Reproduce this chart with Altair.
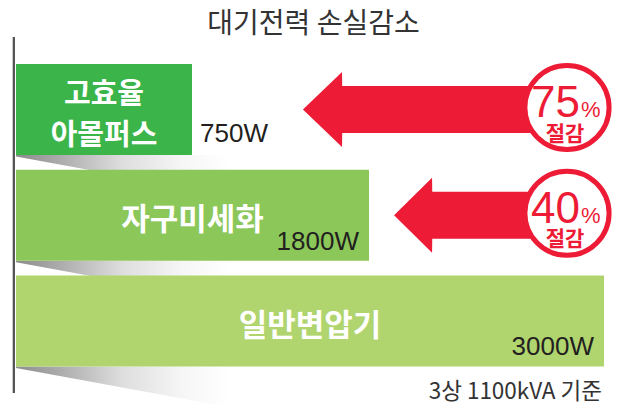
import altair as alt
import pandas as pd

# ---------------- data ----------------
categories = ["고효율\n아몰퍼스", "자구미세화", "일반변압기"]
power_w = [750, 1800, 3000]
power_labels = ["750W", "1800W", "3000W"]
bar_colors = ["#3bb54a", "#8bc759", "#b0d46e"]
reduction_pct = ["75", "40"]          # reductions shown for rows 0 and 1
reduction_word = "절감"
title_text = "대기전력 손실감소"
note_text = "3상 1100kVA 기준"

# ---------------- layout / style ----------------
RED = "#ed1b35"
KR = "Noto Sans CJK KR"
NUM = "Liberation Sans"
PLOT_W, PLOT_H = 611, 401
ROW_PX = 105.75
# display scale of the infographic (bars are not drawn proportionally)
X_DOMAIN = [0, 750, 1800, 3000]
X_RANGE = [8, 184, 361, 596]
Y_TOP = -0.96
Y_DOMAIN = [Y_TOP, Y_TOP + PLOT_H / ROW_PX]   # rows, top to bottom
BAR_HALF = 0.43


def _piece(v, src, dst):
    i = 0
    while i < len(src) - 2 and v >= src[i + 1]:
        i += 1
    return dst[i] + (v - src[i]) * (dst[i + 1] - dst[i]) / (src[i + 1] - src[i])


def to_px(v):
    return _piece(v, X_DOMAIN, X_RANGE)


def to_w(p):
    return _piece(p, X_RANGE, X_DOMAIN)


xs = alt.Scale(domain=X_DOMAIN, range=X_RANGE, nice=False, zero=False)
ys = alt.Scale(domain=Y_DOMAIN, range=[0, PLOT_H], nice=False, zero=False)

rows = list(range(len(categories)))
bars = pd.DataFrame({
    "row": rows,
    "category": categories,
    "power": power_w,
    "label": power_labels,
    "color": bar_colors,
})
bars["y0"] = bars["row"] - BAR_HALF
bars["y1"] = bars["row"] + BAR_HALF
bars["mid"] = [to_w((to_px(0) + to_px(v)) / 2) for v in power_w]
bars["zero"] = 0

# shadows under each bar (wedge, gradient)
SHADOW_END_W = 975
sh = []
for r in rows:
    b = r + BAR_HALF
    sh.append({"row": r, "x": 0, "y": b, "y2": b + 0.014})
    sh.append({"row": r, "x": SHADOW_END_W, "y": b, "y2": b + 0.385})
shadows = pd.DataFrame(sh)

# arrows (reduction), polygon via area
ARROW_TIP = [1408, 1928]
ARROW_BASE = [1640, 2122]
ARROW_END = 2700
HEAD_HALF, SHAFT_HALF = 0.355, 0.222
ar = []
for i, pct in enumerate(reduction_pct):
    c = rows[i]
    ar += [
        {"arrow": i, "x": ARROW_TIP[i], "y": c, "y2": c},
        {"arrow": i, "x": ARROW_BASE[i], "y": c - HEAD_HALF, "y2": c + HEAD_HALF},
        {"arrow": i, "x": ARROW_BASE[i] + 1, "y": c - SHAFT_HALF, "y2": c + SHAFT_HALF},
        {"arrow": i, "x": ARROW_END, "y": c - SHAFT_HALF, "y2": c + SHAFT_HALF},
    ]
arrows = pd.DataFrame(ar)

CIRCLE_W = 2811
badges = pd.DataFrame({
    "row": rows[:len(reduction_pct)],
    "pct": reduction_pct,
    "word": [reduction_word] * len(reduction_pct),
})
badges["cx"] = CIRCLE_W
badges["cy"] = badges["row"] - 0.019

X = lambda f: alt.X(f, type="quantitative", scale=xs, axis=None)
Y = lambda f: alt.Y(f, type="quantitative", scale=ys, axis=None)

gradient = alt.Gradient(
    gradient="linear",
    stops=[
        alt.GradientStop(color="#8c8c8c", offset=0),
        alt.GradientStop(color="#ababab", offset=0.2),
        alt.GradientStop(color="#dedede", offset=0.5),
        alt.GradientStop(color="#f6f6f6", offset=0.78),
        alt.GradientStop(color="#ffffff", offset=1),
    ],
    x1=0, x2=1, y1=0, y2=0,
)

shadow_layer = alt.Chart(shadows).mark_area(color=gradient, interpolate="linear").encode(
    x=X("x"), y=Y("y"), y2="y2", detail="row:N"
)

bar_layer = alt.Chart(bars).mark_rect().encode(
    x=X("zero"), x2="power", y=Y("y0"), y2="y1",
    color=alt.Color("color:N", scale=None),
)

axis_layer = alt.Chart(bars).mark_rule(color="#555555", strokeWidth=2).encode(
    x=alt.XDatum(-9, scale=xs, axis=None),
    y=alt.YDatum(-0.686, scale=ys, axis=None),
    y2=alt.Y2Datum(2.681),
)

arrow_layer = alt.Chart(arrows).mark_area(color=RED, interpolate="linear").encode(
    x=X("x"), y=Y("y"), y2="y2", detail="arrow:N"
)

circle_layer = alt.Chart(badges).mark_point(
    shape="circle", filled=False, fill="white", stroke=RED, strokeWidth=5,
    size=7088, opacity=1,
).encode(x=X("cx"), y=Y("cy"))

pct_layer = alt.Chart(badges).mark_text(
    font=NUM, fontSize=44, color=RED, align="right", baseline="alphabetic", dx=13, dy=9.5
).encode(x=X("cx"), y=Y("cy"), text="pct:N")

pct_sign = alt.Chart(badges).mark_text(
    font=NUM, fontSize=22, color=RED, align="left", baseline="alphabetic", dx=14, dy=9.5,
    text="%",
).encode(x=X("cx"), y=Y("cy"))

word_layer = alt.Chart(badges).mark_text(
    font=KR, fontSize=21, fontWeight="bold", color=RED, align="center",
    baseline="alphabetic", dx=-2, dy=33,
).encode(x=X("cx"), y=Y("cy"), text="word:N")

cat_two = alt.Chart(bars).transform_filter("datum.row == 0").mark_text(
    font=KR, fontSize=29, fontWeight="bold", color="white", align="center",
    baseline="middle", lineBreak="\n", lineHeight=41, dy=-15,
).encode(x=X("mid"), y=Y("row"), text="category:N")

cat_one = alt.Chart(bars).transform_filter("datum.row > 0").mark_text(
    font=KR, fontSize=31, fontWeight="bold", color="white", align="center",
    baseline="middle", dy=6,
).encode(x=X("mid"), y=Y("row"), text="category:N")

val_out = alt.Chart(bars).transform_filter("datum.row == 0").mark_text(
    font=NUM, fontSize=26, color="#231f20", align="left", baseline="alphabetic", dx=8, dy=-13,
).encode(x=X("power"), y=Y("y1"), text="label:N")

val_in = alt.Chart(bars).transform_filter("datum.row > 0").mark_text(
    font=NUM, fontSize=26, color="#231f20", align="right", baseline="alphabetic", dx=-10, dy=-11,
).encode(x=X("power"), y=Y("y1"), text="label:N")

title_layer = alt.Chart(bars).transform_filter("datum.row == 0").mark_text(
    font=KR, fontSize=28, color="#333333", align="center", baseline="alphabetic", text=title_text,
).encode(
    x=alt.XDatum(to_w(PLOT_W / 2), scale=xs, axis=None),
    y=alt.YDatum(-0.728, scale=ys, axis=None),
)

note_layer = alt.Chart(bars).transform_filter("datum.row == 0").mark_text(
    font=KR, fontSize=22.5, color="#333333", align="right", baseline="alphabetic", dx=-2, text=note_text,
).encode(
    x=alt.XDatum(max(power_w), scale=xs, axis=None),
    y=alt.YDatum(2.733, scale=ys, axis=None),
)

chart = alt.layer(
    shadow_layer, bar_layer, axis_layer, arrow_layer, circle_layer,
    pct_layer, pct_sign, word_layer, cat_two, cat_one, val_out, val_in,
    title_layer, note_layer,
).properties(
    width=PLOT_W, height=PLOT_H, padding=0,
    autosize=alt.AutoSizeParams(type="none"),
    background="white",
).configure_view(stroke=None)

chart.save("out.html", embed_options={"renderer": "svg", "actions": False})
